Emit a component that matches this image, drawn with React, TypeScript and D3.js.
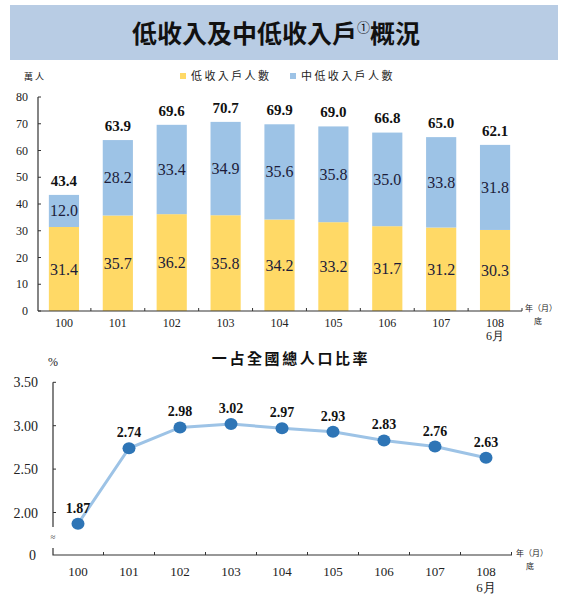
import { useEffect, useRef } from "react";
import * as d3 from "d3";

const years = ["100", "101", "102", "103", "104", "105", "106", "107", "108"];
const lowIncome = [31.4, 35.7, 36.2, 35.8, 34.2, 33.2, 31.7, 31.2, 30.3];
const midLowIncome = [12.0, 28.2, 33.4, 34.9, 35.6, 35.8, 35.0, 33.8, 31.8];
const totals = [43.4, 63.9, 69.6, 70.7, 69.9, 69.0, 66.8, 65.0, 62.1];
const ratio = [1.87, 2.74, 2.98, 3.02, 2.97, 2.93, 2.83, 2.76, 2.63];
const barTicks = [0, 10, 20, 30, 40, 50, 60, 70, 80];
const ratioTicks = [2.0, 2.5, 3.0, 3.5];
const legendLabels = ["低收入戶人數", "中低收入戶人數"];

const YELLOW = "#FFD966";
const BLUE = "#9DC3E6";
const DOT = "#2E75B6";
const SERIF = "'Liberation Serif', 'Times New Roman', serif";
const CJK = "'Noto Sans CJK TC', 'Noto Sans CJK SC', sans-serif";

const App = () => {
  const ref = useRef<SVGSVGElement | null>(null);

  useEffect(() => {
    if (!ref.current) return;
    const svg = d3.select(ref.current);
    svg.selectAll("*").remove();

    // 標題
    svg
      .append("rect")
      .attr("x", 10)
      .attr("y", 5)
      .attr("width", 548)
      .attr("height", 55)
      .attr("fill", "#B8CCE4");

    const title = svg
      .append("text")
      .attr("x", 276)
      .attr("y", 43)
      .attr("text-anchor", "middle")
      .attr("font-family", CJK)
      .attr("font-weight", 700)
      .attr("font-size", 25)
      .attr("fill", "#111");
    title.append("tspan").text("低收入及中低收入戶");
    title
      .append("tspan")
      .attr("font-size", 13)
      .attr("font-weight", 400)
      .attr("dy", -11)
      .text("①");
    title.append("tspan").attr("dy", 11).text("概況");

    // 圖例
    svg
      .append("text")
      .attr("x", 24)
      .attr("y", 80)
      .attr("font-family", CJK)
      .attr("font-size", 9)
      .attr("letter-spacing", 2)
      .attr("fill", "#222")
      .text("萬人");

    const legendX = [180, 290];
    const legendColors = [YELLOW, BLUE];
    legendLabels.forEach((label, i) => {
      svg
        .append("rect")
        .attr("x", legendX[i])
        .attr("y", 73)
        .attr("width", 6)
        .attr("height", 6)
        .attr("fill", legendColors[i]);
      svg
        .append("text")
        .attr("x", legendX[i] + 11)
        .attr("y", 80)
        .attr("font-family", CJK)
        .attr("font-size", 11)
        .attr("letter-spacing", 2.4)
        .attr("fill", "#222")
        .text(label);
    });

    // 長條圖
    const x = d3
      .scaleBand()
      .domain(years)
      .range([37, 522])
      .paddingInner(0.44)
      .paddingOuter(0.22);
    const step = x.step();
    const y = d3.scaleLinear().domain([0, 80]).range([311, 97]);

    const barG = svg.append("g");
    barG
      .selectAll(".low")
      .data(years)
      .join("rect")
      .attr("x", (d) => x(d)!)
      .attr("width", x.bandwidth())
      .attr("y", (_, i) => y(lowIncome[i]))
      .attr("height", (_, i) => y(0) - y(lowIncome[i]))
      .attr("fill", YELLOW);
    barG
      .selectAll(".mid")
      .data(years)
      .join("rect")
      .attr("x", (d) => x(d)!)
      .attr("width", x.bandwidth())
      .attr("y", (_, i) => y(lowIncome[i] + midLowIncome[i]))
      .attr("height", (_, i) => y(lowIncome[i]) - y(lowIncome[i] + midLowIncome[i]))
      .attr("fill", BLUE);

    const cx = (d: string) => x(d)! + x.bandwidth() / 2;

    barG
      .selectAll(".lowLabel")
      .data(years)
      .join("text")
      .attr("x", cx)
      .attr("y", (_, i) => y(lowIncome[i] / 2) + 5.5)
      .attr("text-anchor", "middle")
      .attr("font-family", SERIF)
      .attr("font-size", 16)
      .attr("fill", "#1c1c3a")
      .text((_, i) => lowIncome[i].toFixed(1));
    barG
      .selectAll(".midLabel")
      .data(years)
      .join("text")
      .attr("x", cx)
      .attr("y", (_, i) => y(lowIncome[i] + midLowIncome[i] / 2) + 5.5)
      .attr("text-anchor", "middle")
      .attr("font-family", SERIF)
      .attr("font-size", 16)
      .attr("fill", "#1c1c3a")
      .text((_, i) => midLowIncome[i].toFixed(1));
    barG
      .selectAll(".total")
      .data(years)
      .join("text")
      .attr("x", cx)
      .attr("y", (_, i) => y(totals[i]) - 9)
      .attr("text-anchor", "middle")
      .attr("font-family", SERIF)
      .attr("font-weight", 700)
      .attr("font-size", 15)
      .attr("fill", "#111")
      .text((_, i) => totals[i].toFixed(1));

    // Y軸
    const axisColor = "#333";
    barG
      .append("line")
      .attr("x1", 38)
      .attr("x2", 38)
      .attr("y1", y(80))
      .attr("y2", y(0))
      .attr("stroke", axisColor)
      .attr("stroke-width", 1.2);
    barTicks.forEach((t) => {
      barG
        .append("line")
        .attr("x1", 38)
        .attr("x2", 41)
        .attr("y1", y(t))
        .attr("y2", y(t))
        .attr("stroke", axisColor);
      barG
        .append("text")
        .attr("x", 28)
        .attr("y", y(t) + 4)
        .attr("text-anchor", "end")
        .attr("font-family", SERIF)
        .attr("font-size", 12)
        .attr("fill", "#222")
        .text(t);
    });

    // X軸
    barG
      .append("line")
      .attr("x1", 38)
      .attr("x2", 522)
      .attr("y1", y(0))
      .attr("y2", y(0))
      .attr("stroke", axisColor)
      .attr("stroke-width", 1.2);
    years.forEach((d, i) => {
      const bx = x(d)! - (step - x.bandwidth()) / 2 + step;
      barG
        .append("line")
        .attr("x1", bx)
        .attr("x2", bx)
        .attr("y1", y(0))
        .attr("y2", y(0) - 3)
        .attr("stroke", axisColor);
      barG
        .append("text")
        .attr("x", cx(d))
        .attr("y", 327)
        .attr("text-anchor", "middle")
        .attr("font-family", SERIF)
        .attr("font-size", 12)
        .attr("fill", "#222")
        .text(d);
      if (i === years.length - 1) {
        barG
          .append("text")
          .attr("x", cx(d))
          .attr("y", 340)
          .attr("text-anchor", "middle")
          .attr("font-family", SERIF)
          .attr("font-size", 12)
          .attr("fill", "#222")
          .text("6月");
      }
    });
    barG
      .append("text")
      .attr("x", 525)
      .attr("y", 311)
      .attr("font-family", CJK)
      .attr("font-size", 8)
      .attr("fill", "#222")
      .text("年（月）");
    barG
      .append("text")
      .attr("x", 538)
      .attr("y", 324)
      .attr("text-anchor", "middle")
      .attr("font-family", CJK)
      .attr("font-size", 8)
      .attr("fill", "#222")
      .text("底");

    // 折線圖
    const lineG = svg.append("g");
    lineG
      .append("text")
      .attr("x", 291)
      .attr("y", 364)
      .attr("text-anchor", "middle")
      .attr("font-family", CJK)
      .attr("font-weight", 700)
      .attr("font-size", 15)
      .attr("letter-spacing", 2.6)
      .attr("fill", "#111")
      .text("一占全國總人口比率");
    lineG
      .append("text")
      .attr("x", 48)
      .attr("y", 366)
      .attr("font-family", SERIF)
      .attr("font-size", 12)
      .attr("fill", "#222")
      .text("%");

    const x2 = d3.scaleBand().domain(years).range([52.5, 511.5]);
    const y2 = d3.scaleLinear().domain([2.0, 3.5]).range([512.5, 382.3]);
    const px = (d: string) => x2(d)! + x2.bandwidth() / 2;
    const baseY = 555;

    lineG
      .append("path")
      .attr("d", `M53,${y2(3.5)}V527M53,548V${baseY}H512`)
      .attr("fill", "none")
      .attr("stroke", axisColor)
      .attr("stroke-width", 1.2);
    lineG
      .append("text")
      .attr("x", 53)
      .attr("y", 540)
      .attr("text-anchor", "middle")
      .attr("font-family", SERIF)
      .attr("font-size", 9)
      .attr("fill", "#333")
      .text("≈");
    lineG
      .append("text")
      .attr("x", 36)
      .attr("y", baseY + 5)
      .attr("text-anchor", "end")
      .attr("font-family", SERIF)
      .attr("font-size", 14)
      .attr("fill", "#222")
      .text("0");

    ratioTicks.forEach((t) => {
      lineG
        .append("line")
        .attr("x1", 53)
        .attr("x2", 56)
        .attr("y1", y2(t))
        .attr("y2", y2(t))
        .attr("stroke", axisColor);
      lineG
        .append("text")
        .attr("x", 38)
        .attr("y", y2(t) + 5)
        .attr("text-anchor", "end")
        .attr("font-family", SERIF)
        .attr("font-size", 14)
        .attr("fill", "#222")
        .text(t.toFixed(2));
    });

    years.forEach((d, i) => {
      const bx = x2(d)! + x2.step();
      lineG
        .append("line")
        .attr("x1", bx)
        .attr("x2", bx)
        .attr("y1", baseY)
        .attr("y2", baseY - 3)
        .attr("stroke", axisColor);
      lineG
        .append("text")
        .attr("x", px(d))
        .attr("y", 576)
        .attr("text-anchor", "middle")
        .attr("font-family", SERIF)
        .attr("font-size", 13)
        .attr("fill", "#222")
        .text(d);
      if (i === years.length - 1) {
        lineG
          .append("text")
          .attr("x", px(d))
          .attr("y", 592)
          .attr("text-anchor", "middle")
          .attr("font-family", SERIF)
          .attr("font-size", 13)
          .attr("fill", "#222")
          .text("6月");
      }
    });
    lineG
      .append("text")
      .attr("x", 516)
      .attr("y", 556)
      .attr("font-family", CJK)
      .attr("font-size", 8)
      .attr("fill", "#222")
      .text("年（月）");
    lineG
      .append("text")
      .attr("x", 530)
      .attr("y", 569)
      .attr("text-anchor", "middle")
      .attr("font-family", CJK)
      .attr("font-size", 8)
      .attr("fill", "#222")
      .text("底");

    const line = d3
      .line<number>()
      .x((_, i) => px(years[i]))
      .y((v) => y2(v));
    lineG
      .append("path")
      .datum(ratio)
      .attr("d", line)
      .attr("fill", "none")
      .attr("stroke", BLUE)
      .attr("stroke-width", 3);

    lineG
      .selectAll(".dot")
      .data(ratio)
      .join("ellipse")
      .attr("cx", (_, i) => px(years[i]))
      .attr("cy", (v) => y2(v))
      .attr("rx", 6.5)
      .attr("ry", 6)
      .attr("fill", DOT);

    lineG
      .selectAll(".ratioLabel")
      .data(ratio)
      .join("text")
      .attr("x", (_, i) => px(years[i]))
      .attr("y", (v) => y2(v) - 11)
      .attr("text-anchor", "middle")
      .attr("font-family", SERIF)
      .attr("font-weight", 700)
      .attr("font-size", 14)
      .attr("fill", "#111")
      .text((v) => v.toFixed(2));
  }, []);

  return (
    <svg
      ref={ref}
      width={565}
      height={600}
      style={{ position: "absolute", left: 0, top: 0, background: "#fff" }}
    ></svg>
  );
};

export default App;
